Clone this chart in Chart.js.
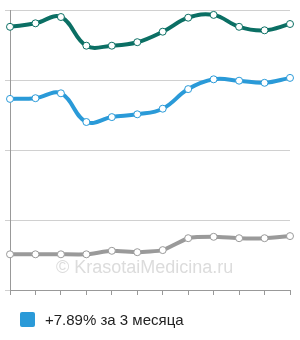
<!DOCTYPE html>
<html>
<head>
<meta charset="utf-8">
<script src="https://cdn.jsdelivr.net/npm/chart.js@4"></script>
<style>
html,body{margin:0;padding:0;background:#fff;}
#wrap{position:relative;width:300px;height:340px;}
#c{position:absolute;left:0;top:0;}
#wm{position:absolute;left:56px;top:257px;font-family:"Liberation Sans",Arial,sans-serif;font-size:18px;color:#dcdcdc;white-space:nowrap;}
#legend{position:absolute;left:20px;top:311px;font-family:"Liberation Sans",Arial,sans-serif;font-size:15px;color:#222;white-space:nowrap;display:flex;align-items:center;}
#legend .box{width:15px;height:15px;border-radius:2px;background:#2a9ad8;margin-right:10px;}
</style>
</head>
<body>
<div id="wrap">
<canvas id="c" width="300" height="300"></canvas>
<div id="wm">© KrasotaiMedicina.ru</div>
<div id="legend"><span class="box"></span><span id="ltext"></span></div>
</div>
<script>
const categories = ["1","2","3","4","5","6","7","8","9","10","11","12"];
const tealValues = [3.76, 3.81, 3.90, 3.49, 3.49, 3.54, 3.69, 3.89, 3.93, 3.76, 3.71, 3.80];
const blueValues = [2.73, 2.74, 2.81, 2.40, 2.47, 2.51, 2.59, 2.87, 3.01, 2.99, 2.96, 3.03];
const grayValues = [0.51, 0.51, 0.51, 0.51, 0.56, 0.54, 0.57, 0.74, 0.76, 0.74, 0.74, 0.77];
const yTicks = [0, 1, 2, 3, 4];
const legendLabel = "+7.89% за 3 месяца";

document.getElementById('ltext').textContent = legendLabel;

function ds(data, color, tension) {
  return {
    data: data,
    borderColor: color,
    borderWidth: 4,
    tension: tension,
    pointRadius: 3.5,
    pointBackgroundColor: '#fff',
    pointBorderColor: color,
    pointBorderWidth: 1,
    fill: false
  };
}

new Chart(document.getElementById('c'), {
  type: 'line',
  data: {
    labels: categories,
    datasets: [
      ds(tealValues, '#0b6f64', 0.4),
      ds(blueValues, '#2a9ad8', 0.4),
      ds(grayValues, '#9a9a9a', 0.15)
    ]
  },
  options: {
    responsive: false,
    animation: false,
    layout: { padding: { top: 10, left: 5, right: 10, bottom: 5 } },
    plugins: { legend: { display: false }, tooltip: { enabled: false } },
    scales: {
      x: {
        offset: false,
        grid: { display: true, drawOnChartArea: false, drawTicks: true, tickLength: 5, color: '#999' },
        border: { display: true, color: '#999', width: 1 },
        ticks: { display: false }
      },
      y: {
        min: yTicks[0],
        max: yTicks[yTicks.length - 1],
        afterBuildTicks: (s) => { s.ticks = yTicks.map(v => ({ value: v })); },
        grid: { display: true, drawTicks: true, tickLength: 5, color: '#d0d0d0' },
        border: { display: true, color: '#999', width: 1 },
        ticks: { display: false }
      }
    }
  }
});
</script>
</body>
</html>
